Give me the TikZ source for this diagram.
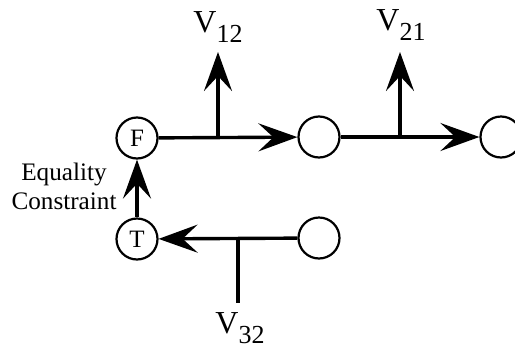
\documentclass[tikz,border=0pt]{standalone}
\usepackage{fontspec}
\setmainfont{Liberation Serif}
\usetikzlibrary{arrows.meta}
\newcommand{\vlab}[1]{{\fontsize{16}{16}\selectfont V}\raisebox{-5pt}{\fontsize{13}{13}\selectfont #1}}
\begin{document}
\begin{tikzpicture}[x=0.5pt,y=-0.5pt,
  var/.style={draw, circle, line width=1.1pt, inner sep=0pt, minimum size=20.5pt, font=\fontsize{12.5}{12.5}\selectfont},
  arr/.style={line width=1.7pt, -{Stealth[length=19.5pt, width=14pt, inset=7.5pt]}},
  wire/.style={line width=1.7pt}]
\useasboundingbox (0,0) rectangle (515,349);
\node[var] (F) at (137,138) {F};
\node[var] (T) at (137,239) {T};
\node[var] (n2) at (319,137) {};
\node[var] (n3) at (501,137) {};
\node[var] (n4) at (319,238) {};
\coordinate (j12) at (218,138);
\coordinate (j21) at (400,137);
\coordinate (j32) at (238,239);
\coordinate (e32) at (238,303);
\node (v12) at (218,27) {\vlab{12}};
\node (v21) at (401,25) {\vlab{21}};
\node (v32) at (240,328) {\vlab{32}};
\node[align=center, font=\fontsize{12.6}{14.5}\selectfont] (eq) at (64,186) {Equality\\Constraint};
\draw[arr] (F) -- (n2);
\draw[arr] (n2) -- (n3);
\draw[arr] (j12) -- (j12 |- 0,52);
\draw[arr] (j21) -- (j21 |- 0,52);
\draw[arr] (T) -- (F);
\draw[arr] (n4) -- (T);
\draw[wire] (j32) -- (e32);
\end{tikzpicture}
\end{document}
